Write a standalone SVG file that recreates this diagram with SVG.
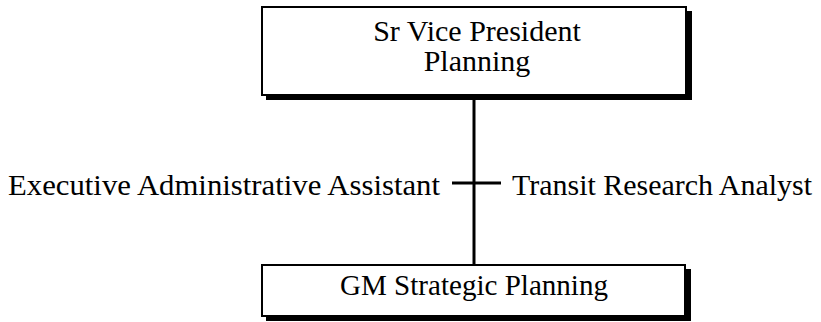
<svg xmlns="http://www.w3.org/2000/svg" width="821" height="322" viewBox="0 0 821 322">
<style>
.box{fill:#fff;stroke:#000;stroke-width:2}
.shadow{fill:#000}
text{font-family:"Liberation Serif","Times New Roman",serif;fill:#000}
.t{font-size:30px;text-anchor:middle}
.l{font-size:30px}
.c{stroke:#000;stroke-width:3;fill:none}
</style>
<rect width="821" height="322" fill="#fff"/>
<g id="connectors">
<line class="c" x1="474" y1="96" x2="474" y2="266"/>
<line class="c" x1="452" y1="183" x2="501" y2="183"/>
</g>
<g id="svp">
<rect class="shadow" x="266" y="11" width="426" height="89"/>
<rect class="box" x="262" y="7" width="424" height="88"/>
<text class="t" x="477" y="41">Sr Vice President</text>
<text class="t" x="477" y="71">Planning</text>
</g>
<g id="gm">
<rect class="shadow" x="266" y="269" width="425" height="52"/>
<rect class="box" x="262" y="265" width="423" height="51"/>
<text class="t" x="474" y="295" textLength="268" lengthAdjust="spacingAndGlyphs">GM Strategic Planning</text>
</g>
<g id="eaa">
<text class="l" x="8" y="195" textLength="432" lengthAdjust="spacingAndGlyphs">Executive Administrative Assistant</text>
</g>
<g id="tra">
<text class="l" x="512" y="195" textLength="300" lengthAdjust="spacingAndGlyphs">Transit Research Analyst</text>
</g>
</svg>
